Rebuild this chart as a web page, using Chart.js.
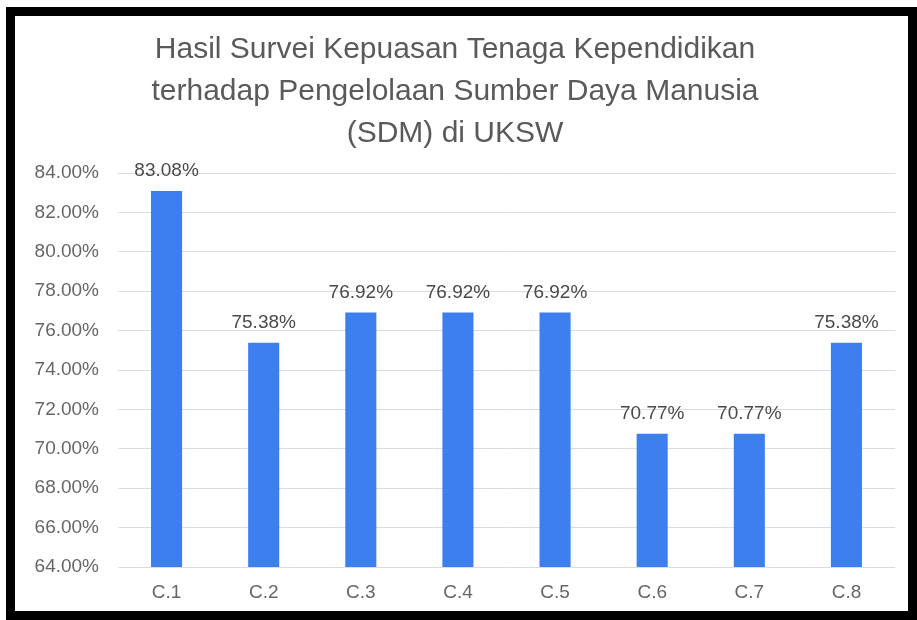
<!DOCTYPE html>
<html>
<head>
<meta charset="utf-8">
<script src="https://cdn.jsdelivr.net/npm/chart.js@4"></script>
<style>
    body { margin: 0; background: #fff; }
    #frame {
        position: absolute;
        left: 6px;
        top: 7px;
        width: 893px;
        height: 595px;
        border: 9px solid #000;
        background: #fff;
    }
</style>
</head>
<body>
<div id="frame"><canvas id="surveyChart" width="893" height="595"></canvas></div>
<script>
const categories = ['C.1', 'C.2', 'C.3', 'C.4', 'C.5', 'C.6', 'C.7', 'C.8'];
const satisfaction = [83.08, 75.38, 76.92, 76.92, 76.92, 70.77, 70.77, 75.38];
const titleLines = [
    'Hasil Survei Kepuasan Tenaga Kependidikan',
    'terhadap Pengelolaan Sumber Daya Manusia',
    '(SDM) di UKSW'
];

// labels above each bar, placed from the bar elements
const valueLabels = {
    id: 'valueLabels',
    afterDatasetsDraw(chart) {
        const ctx = chart.ctx;
        const meta = chart.getDatasetMeta(0);
        ctx.save();
        ctx.font = '19px "Liberation Sans", Arial, sans-serif';
        ctx.fillStyle = '#4a4a4a';
        ctx.textAlign = 'center';
        ctx.textBaseline = 'middle';
        meta.data.forEach((bar, i) => {
            ctx.fillText(satisfaction[i].toFixed(2) + '%', bar.x, bar.y - 20);
        });
        ctx.restore();
    }
};

const ctx1 = document.getElementById('surveyChart').getContext('2d');
const surveyChart = new Chart(ctx1, {
    type: 'bar',
    data: {
        labels: categories,
        datasets: [{
            label: 'Kepuasan',
            data: satisfaction,
            backgroundColor: '#3d7fef',
            barPercentage: 0.32,
            categoryPercentage: 1
        }]
    },
    options: {
        responsive: false,
        animation: false,
        layout: {
            padding: { top: 13, right: 13, bottom: 4, left: 0 }
        },
        plugins: {
            legend: { display: false },
            tooltip: { enabled: false },
            title: {
                display: true,
                text: titleLines,
                color: '#5a5a5a',
                font: { family: '"Liberation Sans", Arial, sans-serif', size: 30, weight: 'normal', lineHeight: 1.4 },
                padding: { top: 0, bottom: 18 }
            }
        },
        scales: {
            x: {
                afterFit(scale) { scale.height = 40; },
                grid: { display: false, drawTicks: false },
                border: { display: false },
                ticks: {
                    color: '#666',
                    font: { family: '"Liberation Sans", Arial, sans-serif', size: 19 },
                    padding: 14
                }
            },
            y: {
                min: 64,
                max: 84,
                afterFit(scale) { scale.width = 103; },
                grid: { color: '#dcdcdc', drawTicks: false },
                border: { display: false },
                ticks: {
                    stepSize: 2,
                    color: '#666',
                    padding: 19,
                    font: { family: '"Liberation Sans", Arial, sans-serif', size: 19 },
                    callback: v => v.toFixed(2) + '%'
                }
            }
        }
    },
    plugins: [valueLabels]
});
</script>
</body>
</html>
